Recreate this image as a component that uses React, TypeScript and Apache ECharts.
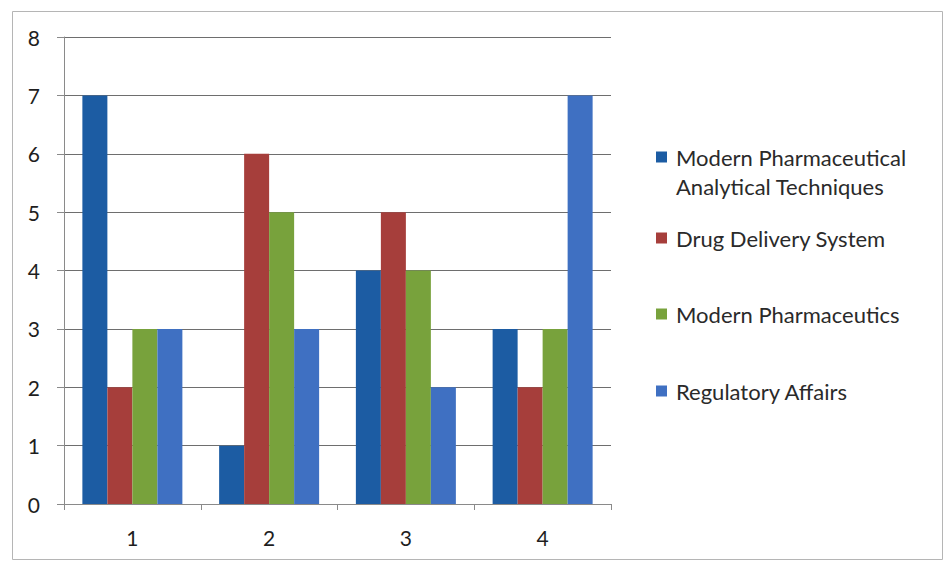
import React, { useEffect, useRef } from "react";
import * as echarts from "echarts";

const categories = ["1", "2", "3", "4"];
const seriesNames = [
  "Modern Pharmaceutical Analytical Techniques",
  "Drug Delivery System",
  "Modern Pharmaceutics",
  "Regulatory Affairs",
];
const analyticalValues = [7, 1, 4, 3];
const deliveryValues = [2, 6, 5, 2];
const pharmaceuticsValues = [3, 5, 4, 3];
const regulatoryValues = [3, 3, 2, 7];
const colors = ["#1c5ca3", "#a63e3b", "#78a23c", "#3f70c2"];
const legendTops = [146, 227, 303, 380];

export default function App() {
  const ref = useRef<HTMLDivElement>(null);
  useEffect(() => {
    if (!ref.current) return;
    const chart = echarts.init(ref.current, null, { renderer: "svg" });
    const values = [analyticalValues, deliveryValues, pharmaceuticsValues, regulatoryValues];
    const font = "Lato, 'Liberation Sans', sans-serif";
    chart.setOption({
      animation: false,
      backgroundColor: "#ffffff",
      grid: { left: 64, right: 332, top: 37, bottom: 59 },
      xAxis: {
        type: "category",
        data: categories,
        axisLine: { show: true, lineStyle: { color: "#8a8a8a", width: 1 } },
        axisTick: { show: true, alignWithLabel: false, length: 6, lineStyle: { color: "#8a8a8a" } },
        axisLabel: { color: "#1e1e1e", fontSize: 21, fontFamily: font, margin: 23 },
      },
      yAxis: {
        type: "value",
        min: 0,
        max: 8,
        interval: 1,
        axisLine: { show: true, lineStyle: { color: "#8a8a8a", width: 1 } },
        axisTick: { show: true, length: 7, lineStyle: { color: "#8a8a8a" } },
        axisLabel: { color: "#1e1e1e", fontSize: 21, fontFamily: font, margin: 24 },
        splitLine: { show: true, lineStyle: { color: "#6e6e6e", width: 1 } },
      },
      legend: seriesNames.map((name, i) => ({
        data: [name],
        left: 656,
        top: legendTops[i],
        padding: 0,
        orient: "vertical",
        icon: "rect",
        itemWidth: 11,
        itemHeight: 11,
        formatter: (n: string) =>
          n === seriesNames[0] ? "Modern Pharmaceutical" : n,
        textStyle: {
          color: "#2a2a2a",
          fontSize: 22,
          fontFamily: font,
          lineHeight: 22,
          padding: [0, 0, 0, 4],
        },
        selectedMode: false,
      })),
      graphic: [
        {
          type: "rect",
          left: 10,
          top: 9,
          shape: { width: 930, height: 548 },
          style: { fill: "none", stroke: "#b5b5b5", lineWidth: 1 },
          silent: true,
        },
        {
          type: "text",
          x: 676,
          y: 186,
          style: {
            text: "Analytical Techniques",
            fill: "#2a2a2a",
            fontSize: 22,
            lineHeight: 22,
            fontFamily: font,
            verticalAlign: "middle",
          },
        },
      ],
      series: seriesNames.map((name, i) => ({
        name,
        type: "bar",
        data: values[i],
        barWidth: 25,
        barGap: "0%",
        itemStyle: { color: colors[i] },
      })),
    });
    return () => chart.dispose();
  }, []);
  return (
    <div
      ref={ref}
      style={{ position: "fixed", left: 0, top: 0, width: 943, height: 563 }}
    />
  );
}
